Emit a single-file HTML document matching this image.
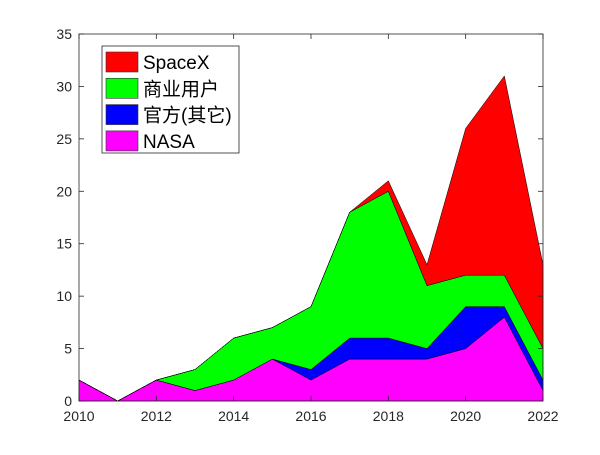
<!DOCTYPE html>
<html><head><meta charset="utf-8"><style>
body{margin:0;background:#fff;}
text{font-family:"Liberation Sans","Noto Sans CJK SC",sans-serif;}
</style></head><body>
<svg id="chart" width="600" height="450" xmlns="http://www.w3.org/2000/svg"></svg>
<script>
const years=[2010,2011,2012,2013,2014,2015,2016,2017,2018,2019,2020,2021,2022];
const nasa=[2,0,2,1,2,4,2,4,4,4,5,8,1];
const official=[0,0,0,0,0,0,1,2,2,1,4,1,1];
const commercial=[0,0,0,2,4,3,6,12,14,6,3,3,3];
const spacex=[0,0,0,0,0,0,0,0,1,2,14,19,8];
const xTicks=[2010,2012,2014,2016,2018,2020,2022];
const yTicks=[0,5,10,15,20,25,30,35];
const seriesNames=["NASA","官方(其它)","商业用户","SpaceX"];
const seriesColors=["#ff00ff","#0000ff","#00ff00","#ff0000"];
const seriesKeys=["nasa","official","commercial","spacex"];

const L=79,R=543,T=34,B=401;
const xs=v=>L+(v-2010)/(2022-2010)*(R-L);
const ys=v=>B-v/35*(B-T);
const svg=document.getElementById('chart');
const NS="http://www.w3.org/2000/svg";
function mk(tag,attrs,parent){const e=document.createElementNS(NS,tag);for(const k in attrs)e.setAttribute(k,attrs[k]);(parent||svg).appendChild(e);return e;}

const data=[nasa,official,commercial,spacex];
let base=years.map(()=>0);
data.forEach((s,i)=>{
  const top=base.map((b,j)=>b+s[j]);
  let d="M"+years.map((y,j)=>xs(y)+","+ys(top[j])).join(" L");
  for(let j=years.length-1;j>=0;j--) d+=" L"+xs(years[j])+","+ys(base[j]);
  d+=" Z";
  const p=mk('path',{d:d,fill:seriesColors[i],stroke:"#000","stroke-width":0.5});
  
  
  base=top;
});

const box=mk('rect',{x:L,y:T,width:R-L,height:B-T,fill:"none",stroke:"#262626","stroke-width":0.8});



xTicks.forEach(t=>{
  const x=xs(t);
  mk('line',{x1:x,x2:x,y1:B,y2:B-5,stroke:"#262626","stroke-width":0.8});
  mk('line',{x1:x,x2:x,y1:T,y2:T+5,stroke:"#262626","stroke-width":0.8});
  const tx=mk('text',{x:x,y:B+20,"text-anchor":"middle","font-size":14,fill:"#262626"});
  tx.textContent=t;
  
  
});
yTicks.forEach(t=>{
  const y=ys(t);
  mk('line',{x1:L,x2:L+5,y1:y,y2:y,stroke:"#262626","stroke-width":0.8});
  mk('line',{x1:R,x2:R-5,y1:y,y2:y,stroke:"#262626","stroke-width":0.8});
  const tx=mk('text',{x:L-7,y:y+5,"text-anchor":"end","font-size":14,fill:"#262626"});
  tx.textContent=t;
  
  
});

const lg=mk('g',{});


mk('rect',{x:102,y:46,width:137,height:107,fill:"#fff",stroke:"#262626","stroke-width":0.8},lg);
const order=[3,2,1,0];
order.forEach((si,r)=>{
  const cy=62+r*26.3;
  const e=mk('g',{},lg);
  
  
  mk('rect',{x:106,y:cy-10,width:32,height:20,fill:seriesColors[si],stroke:"#333","stroke-width":0.6},e);
  const tx=mk('text',{x:143,y:cy+7,"font-size":19,fill:"#000"},e);
  tx.textContent=seriesNames[si];
});
</script>
</body></html>
